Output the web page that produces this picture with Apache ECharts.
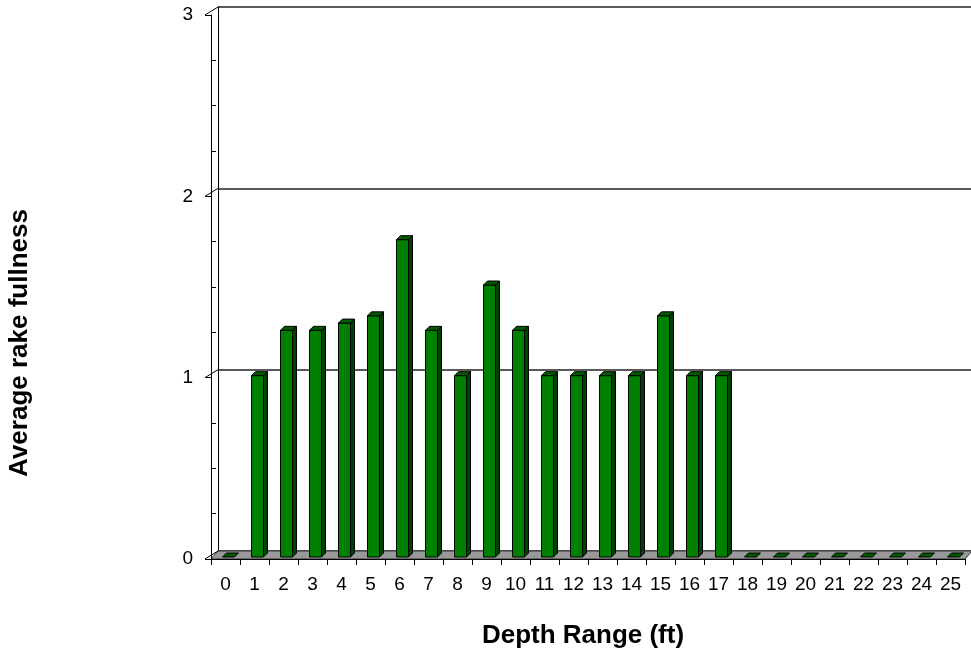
<!DOCTYPE html>
<html>
<head>
<meta charset="utf-8">
<script src="https://cdn.jsdelivr.net/npm/echarts@6/dist/echarts.min.js"></script>
<style>
html,body{margin:0;padding:0;background:#fff;}
#chart{width:971px;height:654px;}
</style>
</head>
<body>
<div id="chart"></div>
<script>
const categories = ['0','1','2','3','4','5','6','7','8','9','10','11','12','13','14','15','16','17','18','19','20','21','22','23','24','25'];
const fullness = [0,1,1.25,1.25,1.29,1.33,1.75,1.25,1,1.5,1.25,1,1,1,1,1.33,1,1,0,0,0,0,0,0,0,0];
const yTicks = [0,1,2,3];
const xTitle = 'Depth Range (ft)';
const yTitle = 'Average rake fullness';

const FONT = '"Liberation Sans", Arial, sans-serif';
const WALL_DX = 7, WALL_DY = -8;   // depth of the 3D walls
const BAR_OFF = 2, BAR_D = 4, BAR_W = 12;

const chart = echarts.init(document.getElementById('chart'), null, {renderer:'canvas'});

function floorItem(params, api) {
  const cs = params.coordSys;
  const x0 = cs.x, x1 = cs.x + cs.width, y = cs.y + cs.height;
  return {
    type: 'polygon',
    shape: {points: [[x0, y], [x1, y], [x1 + WALL_DX, y + WALL_DY], [x0 + WALL_DX, y + WALL_DY]]},
    style: {fill: '#999999', stroke: '#333', lineWidth: 1},
    z2: 1
  };
}

function connectorItem(params, api) {
  const cs = params.coordSys;
  const p = api.coord([0, api.value(1)]);
  const x = cs.x;
  return {
    type: 'line',
    shape: {x1: x - 6, y1: p[1], x2: x + WALL_DX, y2: p[1] + WALL_DY},
    style: {stroke: '#000', lineWidth: 1}
  };
}

function barItem(params, api) {
  const idx = api.value(0);
  const v = api.value(1);
  const base = api.coord([idx, 0]);
  const top = api.coord([idx, v]);
  const l = base[0] - BAR_W / 2 + 3; // front face left
  const r = l + BAR_W;
  const yb = base[1] - BAR_OFF;
  const yt = top[1] - BAR_OFF;
  const stroke = '#000';
  const children = [];
  if (v > 0) {
    children.push({type: 'rect', shape: {x: l, y: yt, width: BAR_W, height: yb - yt},
      style: {fill: '#008000', stroke: stroke, lineWidth: 1}});
    children.push({type: 'polygon', shape: {points: [[r, yb], [r + BAR_D, yb - BAR_D], [r + BAR_D, yt - BAR_D], [r, yt]]},
      style: {fill: '#004000', stroke: stroke, lineWidth: 1}});
  }
  children.push({type: 'polygon', shape: {points: [[l, yt], [l + BAR_D, yt - BAR_D], [r + BAR_D, yt - BAR_D], [r, yt]]},
    style: {fill: '#005a00', stroke: stroke, lineWidth: 1}});
  return {type: 'group', children: children};
}

const option = {
  animation: false,
  backgroundColor: '#fff',
  grid: [
    {left: 211, top: 15, width: 754, height: 544},
    {left: 218, top: 7, width: 754, height: 544}
  ],
  xAxis: [
    {type: 'category', gridIndex: 0, data: categories,
      axisLine: {lineStyle: {color: '#000', width: 1}},
      axisTick: {show: true, length: 6, lineStyle: {color: '#000'}},
      axisLabel: {color: '#000', fontSize: 19, fontFamily: FONT, margin: 16, interval: 0},
      splitLine: {show: false}, z: 5},
    {type: 'category', gridIndex: 1, data: categories, show: false}
  ],
  yAxis: [
    {type: 'value', gridIndex: 0, position: 'left', min: 0, max: 3, interval: 1,
      axisLine: {show: true, lineStyle: {color: '#000', width: 1}},
      axisTick: {show: true, length: 6, lineStyle: {color: '#000'}},
      axisLabel: {color: '#000', fontSize: 19, fontFamily: FONT, margin: 18},
      splitLine: {show: false}, z: 5},
    {type: 'value', gridIndex: 0, position: 'left', min: 0, max: 3, interval: 1,
      axisLine: {show: false},
      axisTick: {show: false, inside: true},
      minorTick: {show: true, splitNumber: 4, length: 5, lineStyle: {color: '#000'}},
      axisLabel: {show: false},
      splitLine: {show: false}},
    {type: 'value', gridIndex: 1, position: 'left', min: 0, max: 3, interval: 1,
      axisLine: {show: true, lineStyle: {color: '#000', width: 1}},
      axisTick: {show: false},
      axisLabel: {show: false},
      splitLine: {show: true, lineStyle: {color: '#222', width: 1.5}}}
  ],
  series: [
    {type: 'custom', name: 'floor', xAxisIndex: 0, yAxisIndex: 0, renderItem: floorItem,
      data: [[0, 0]], z: 1, silent: true},
    {type: 'custom', name: 'connectors', xAxisIndex: 0, yAxisIndex: 0, renderItem: connectorItem,
      data: yTicks.map(t => [0, t]), z: 6, silent: true, clip: false},
    {type: 'custom', name: 'Average rake fullness', xAxisIndex: 0, yAxisIndex: 0, renderItem: barItem,
      data: fullness.map((v, i) => [i, v]), z: 3, encode: {x: 0, y: 1}}
  ],
  graphic: [
    {type: 'text', x: 583, y: 636, style: {text: xTitle, font: 'bold 26px ' + FONT, fill: '#000', align: 'center', verticalAlign: 'middle'}},
    {type: 'text', x: 20, y: 343, rotation: Math.PI / 2,
      style: {text: yTitle, font: 'bold 26px ' + FONT, fill: '#000', align: 'center', verticalAlign: 'middle'}}
  ]
};
chart.setOption(option);
</script>
</body>
</html>
